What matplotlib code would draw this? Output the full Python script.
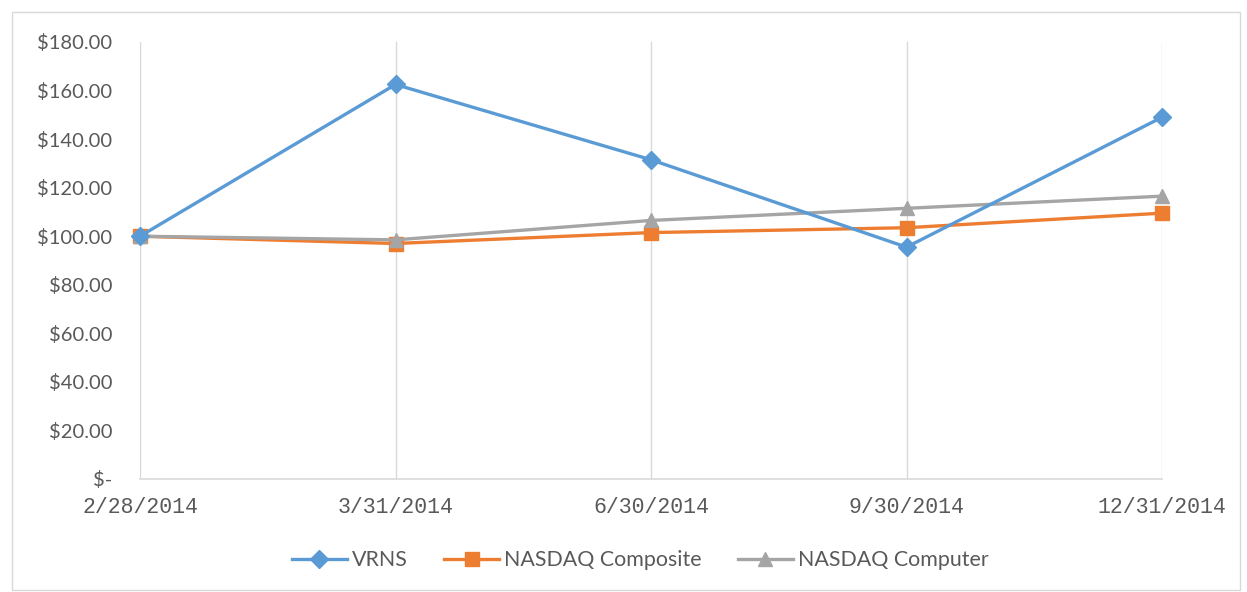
import matplotlib.pyplot as plt
from matplotlib.ticker import FuncFormatter
from matplotlib.patches import Rectangle

dates = ['2/28/2014', '3/31/2014', '6/30/2014', '9/30/2014', '12/31/2014']
vrns = [100.0, 162.5, 131.5, 95.5, 149.0]
composite = [100.0, 97.0, 101.5, 103.5, 109.5]
computer = [100.0, 98.5, 106.5, 111.5, 116.5]

fig = plt.figure(figsize=(12.47, 5.92), dpi=100)
ax = fig.add_axes([140/1247, 1 - 479/592, (1162-140)/1247, (479-42)/592])

# outer chart border
fig.patches.append(Rectangle((12/1247, 2/592), 1228/1247, 578/592, transform=fig.transFigure,
                             fill=False, edgecolor='#d9d9d9', linewidth=1))

x = list(range(len(dates)))
ax.plot(x, vrns, color='#5B9BD5', marker='D', markersize=9, linewidth=2.4, label='VRNS',
        zorder=5, clip_on=False)
ax.plot(x, composite, color='#ED7D31', marker='s', markersize=10, linewidth=2.4,
        label='NASDAQ Composite', zorder=3, clip_on=False)
ax.plot(x, computer, color='#A5A5A5', marker='^', markersize=10, linewidth=2.4,
        label='NASDAQ Computer', zorder=4, clip_on=False)

ax.set_xlim(0, 4)
ax.set_ylim(0, 180)
ax.set_yticks(range(0, 181, 20))
ax.yaxis.set_major_formatter(FuncFormatter(lambda v, p: '$-' if v == 0 else f'${v:.2f}'))
ax.set_xticks(x)
ax.set_xticklabels(dates, family='Liberation Mono', fontsize=15.5, color='#595959')
for t in ax.get_yticklabels():
    t.set_family('Lato')
    t.set_fontsize(14.5)
    t.set_color('#595959')

ax.grid(axis='x', color='#d9d9d9', linewidth=1)
ax.set_axisbelow(True)
for s in ['top', 'right', 'left']:
    ax.spines[s].set_visible(False)
ax.spines['bottom'].set_color('#d9d9d9')
ax.spines['bottom'].set_linewidth(1.2)
ax.tick_params(axis='both', length=0)
ax.tick_params(axis='y', pad=20)
ax.tick_params(axis='x', pad=13)

leg = fig.legend(loc='center', bbox_to_anchor=(640/1247, 1 - 560/592), ncol=3, frameon=False,
                 prop={'family': 'Lato', 'size': 15.4}, handlelength=2.6, handletextpad=0.2,
                 columnspacing=1.7, labelcolor='#595959')

fig.savefig('out.png', dpi=100)
